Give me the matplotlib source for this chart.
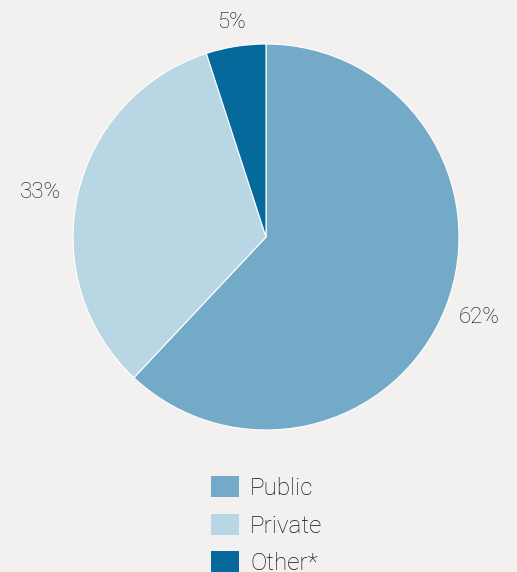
import matplotlib
matplotlib.use("Agg")
import matplotlib.pyplot as plt
import numpy as np

categories = ["Public", "Private", "Other*"]
values = [62, 33, 5]
colors = ["#72aac8", "#b8d6e4", "#06699c"]

plt.rcParams['font.family'] = ['Roboto', 'DejaVu Sans']
bg = "#f2f1ef"
W, H = 517, 572
fig = plt.figure(figsize=(W/100, H/100), dpi=100, facecolor=bg)
cx, cy, r = 266, 237, 193
ax = fig.add_axes([(cx-r)/W, (H-cy-r)/H, 2*r/W, 2*r/H])
ax.set_facecolor(bg)
wedges, texts = ax.pie(values, colors=colors, startangle=90, counterclock=False,
                       radius=1, wedgeprops=dict(edgecolor="white", linewidth=0.8))
ax.set_xlim(-1, 1); ax.set_ylim(-1, 1); ax.set_aspect('equal'); ax.axis('off')

dists = [1.19, 1.2, 1.14]
offsets_px = [(0, 4), (0, -6), (0, -3)]
for w, v, d, off in zip(wedges, values, dists, offsets_px):
    ang = np.deg2rad((w.theta1 + w.theta2) / 2)
    ax.annotate(f"{v}%", (d*np.cos(ang), d*np.sin(ang)),
                xytext=(off[0]*0.72, off[1]*0.72), textcoords='offset points',
                ha='center', va='center', fontsize=16, fontweight='light',
                color="#111111", annotation_clip=False)

leg = fig.legend(wedges, categories, loc='upper left', bbox_to_anchor=(211/W, 1-476/H),
                 frameon=False, fontsize=17.5, handlelength=1.15, handleheight=0.95,
                 handletextpad=0.45, labelspacing=0.57, borderpad=0, borderaxespad=0)
for t in leg.get_texts():
    t.set_color("#111111")
    t.set_fontweight('light')
for h in leg.legend_handles:
    h.set_edgecolor('none')

fig.savefig("out.png", dpi=100, facecolor=bg)
